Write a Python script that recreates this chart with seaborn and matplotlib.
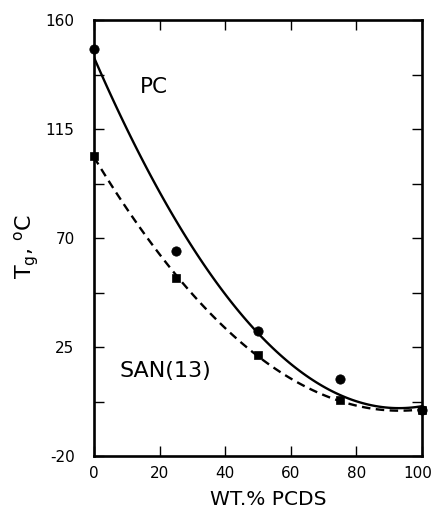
import numpy as np
import pandas as pd
import seaborn as sns
import matplotlib
matplotlib.use("Agg")
import matplotlib.pyplot as plt
import matplotlib.transforms as mtransforms
from matplotlib.ticker import FixedLocator

# measured data points
wt_pcds = [0, 25, 50, 75, 100]
tg_pc = [148.0, 64.5, 31.6, 12.0, -1.1]
tg_san = [104.0, 53.4, 21.8, 3.3, -1.1]

# fitted curve (solid PC curve)
pc_curve_x = [0, 5, 17, 28, 31.4, 50, 75, 100]
pc_curve_y = [144.5, 130.5, 95.0, 69.5, 64.8, 30.5, 5.8, 0.3]

x_ticks = [0, 20, 40, 60, 80, 100]
y_ticks = [-20, 25, 70, 115, 160]
y_minor_ticks = [2.5, 47.5, 92.5, 137.5]

sns.set_theme(style="ticks")
plt.rcParams['font.family'] = ['DejaVu Sans']
plt.rcParams['text.color'] = 'black'
plt.rcParams['axes.labelcolor'] = 'black'
plt.rcParams['xtick.color'] = 'black'
plt.rcParams['ytick.color'] = 'black'

df_pc = pd.DataFrame({"x": wt_pcds, "y": tg_pc})
df_san = pd.DataFrame({"x": wt_pcds, "y": tg_san})
df_pc_curve = pd.DataFrame({"x": pc_curve_x, "y": pc_curve_y})

fig = plt.figure(figsize=(4.35, 5.13), dpi=100)
ax = fig.add_axes([0.216, 0.111, 0.754, 0.850])

sns.regplot(data=df_pc_curve, x="x", y="y", order=2, ci=None, scatter=False,
            truncate=True, ax=ax, line_kws=dict(color="black", lw=1.7, ls="-"))
sns.regplot(data=df_san, x="x", y="y", order=2, ci=None, scatter=False,
            truncate=True, ax=ax, line_kws=dict(color="black", lw=1.7, ls=(0, (3.6, 2.3))))
sns.scatterplot(data=df_pc, x="x", y="y", marker="o", s=45, color="black",
                edgecolor="black", ax=ax, zorder=5, clip_on=False)
sns.scatterplot(data=df_san, x="x", y="y", marker="s", s=38, color="black",
                edgecolor="black", ax=ax, zorder=5, clip_on=False)

ax.set_xlim(0, 100)
ax.set_ylim(-20, 160)
ax.xaxis.set_major_locator(FixedLocator(x_ticks))
ax.yaxis.set_major_locator(FixedLocator(y_ticks))
ax.yaxis.set_minor_locator(FixedLocator(y_minor_ticks))
ax.tick_params(axis="both", which="both", direction="in", top=True, right=True,
               length=7.5, width=1.0, color="black", labelcolor="black", labelsize=11)
ax.tick_params(axis="x", which="major", pad=7)
ax.tick_params(axis="y", which="major", pad=14)
ax.set_xticklabels([str(v) for v in x_ticks])
ax.set_yticklabels([str(v) for v in y_ticks])
# nudge the last x tick label so it stays inside the figure
last = ax.get_xticklabels()[-1]
last.set_transform(last.get_transform() +
                   mtransforms.ScaledTranslation(-3 / 72, 0, fig.dpi_scale_trans))
for s in ax.spines.values():
    s.set_linewidth(1.9)
    s.set_color("black")

ax.set_xlabel("WT.% PCDS", fontsize=14.5, color="black")
ax.set_ylabel(r"T$_\mathregular{g}$, $^\mathregular{o}$C", fontsize=16, color="black")
ax.xaxis.set_label_coords(0.53, -0.078)
ax.yaxis.set_label_coords(-0.16, 0.48)

ax.text(14, 132.5, "PC", fontsize=15.5, ha="left", va="center", color="black")
ax.text(7.9, 15, "SAN(13)", fontsize=16, ha="left", va="center", color="black")

ax.set_facecolor("white")
fig.patch.set_facecolor("white")
fig.savefig("out.png", dpi=100)
